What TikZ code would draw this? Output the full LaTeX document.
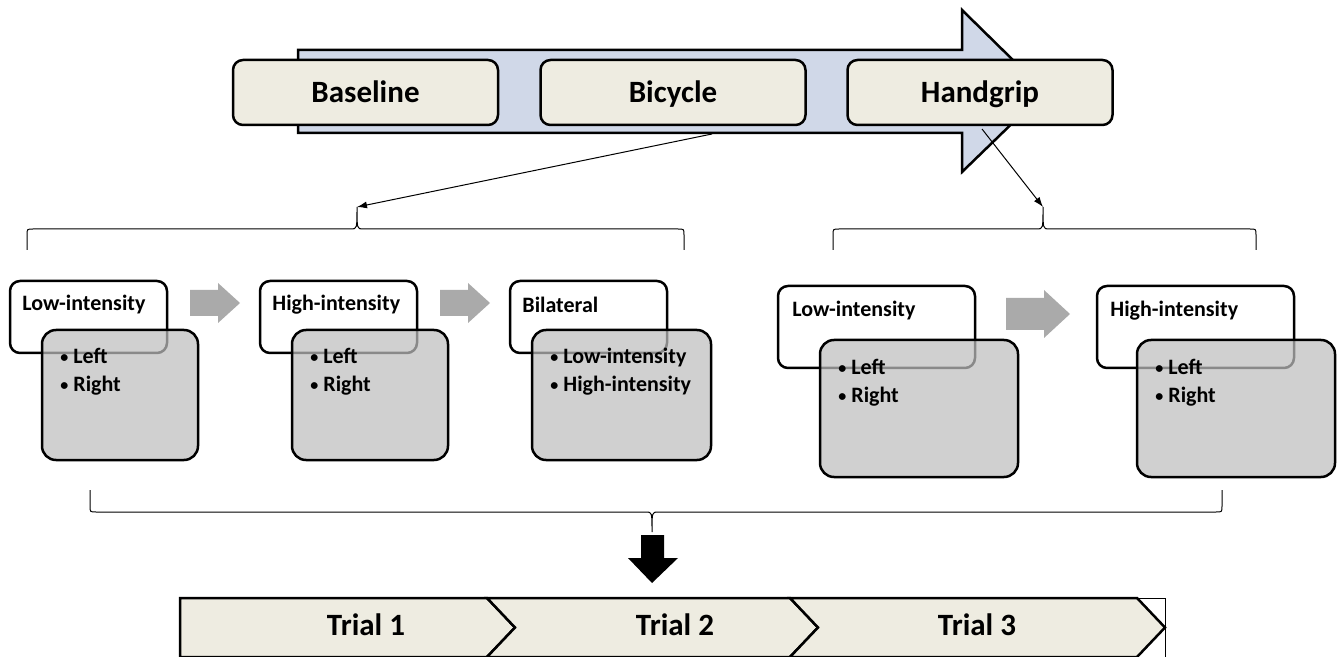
\documentclass[tikz,border=0pt]{standalone}
\usepackage{fontspec}
\setmainfont{Carlito}
\usepackage{tikz}
\usetikzlibrary{arrows.meta, positioning}
\definecolor{phase-beige}{RGB}{238,236,225}
\definecolor{phase-blue}{RGB}{208,216,232}
\definecolor{list-gray}{RGB}{190,190,190}
\definecolor{flow-gray}{RGB}{170,170,170}
\newcommand{\itm}{{\fontsize{8}{8}\selectfont\raisebox{0.6pt}{•}}\hspace{2.5pt}}

\begin{document}
\begin{tikzpicture}[
  x=0.5pt, y=-0.5pt,
  phase/.style={rectangle, draw, line width=1.25pt, rounded corners=5pt, fill=phase-beige, minimum width=132.5pt, minimum height=32.5pt, text height=12.5pt, text depth=2pt, font=\bfseries\fontsize{15.5}{18}\selectfont},
  titlebox/.style={rectangle, draw, line width=1.25pt, rounded corners=5pt, fill=white, minimum width=78.5pt, minimum height=36pt},
  listbox/.style={rectangle, draw, line width=1.25pt, rounded corners=7pt, fill=list-gray, fill opacity=0.72, text opacity=1, minimum width=78pt, minimum height=65pt},
  steptitle/.style={anchor=west, inner sep=0pt, font=\bfseries\fontsize{11}{13}\selectfont},
  items/.style={anchor=north west, inner sep=0pt, align=left, font=\bfseries\fontsize{11}{14}\selectfont},
  trial/.style={text height=11pt, text depth=3pt, font=\bfseries\fontsize{15.5}{18}\selectfont},
  brace/.style={draw, line width=0.5pt},
  link/.style={-{Latex[length=5pt,width=3.5pt]}, line width=0.5pt},
  flow/.style={fill=flow-gray},
  chevron/.style={draw, line width=1.25pt, fill=phase-beige, line join=miter}
]
  \useasboundingbox (0,0) rectangle (1338,657);

  \draw[line width=1.25pt, fill=phase-blue] (298,50) -- (962,50) -- (962,10) -- (1045,91.5) -- (962,172) -- (962,133) -- (298,133) -- cycle;
  \node[phase] (baseline) at (365.5,92.5) {Baseline};
  \node[phase] (bicycle) at (673,92.5) {Bicycle};
  \node[phase] (handgrip) at (980,92.5) {Handgrip};

  \coordinate (bikeout) at (712,134);
  \coordinate (gripout) at (982,129);
  \coordinate (bikebrace) at (357,207);
  \coordinate (gripbrace) at (1043,207);
  \coordinate (allbrace) at (652,532);

  \draw[brace] (27,250) -- (27,235) .. controls (27,229) .. (33,229) -- (351,229) .. controls (357,229) .. (bikebrace) .. controls (357,229) .. (363,229) -- (678,229) .. controls (684,229) .. (684,235) -- (684,250);
  \draw[brace] (833,250) -- (833,235) .. controls (833,229) .. (839,229) -- (1037,229) .. controls (1043,229) .. (gripbrace) .. controls (1043,229) .. (1049,229) -- (1250,229) .. controls (1256,229) .. (1256,235) -- (1256,250);
  \draw[link] (bikeout) -- (bikebrace);
  \draw[link] (gripout) -- (gripbrace);

  \node[titlebox] (lowbike) at (88.5,317) {};
  \node[titlebox] (highbike) at (338.5,317) {};
  \node[titlebox] (bilat) at (588.5,317) {};
  \node[titlebox, minimum width=98.5pt, minimum height=41pt] (lowgrip) at (876.5,327) {};
  \node[titlebox, minimum width=98.5pt, minimum height=41pt] (highgrip) at (1195.5,327) {};

  \node[steptitle] (lowbiketext) at (22,305) {Low-intensity};
  \node[steptitle] (highbiketext) at (272,305) {High-intensity};
  \node[steptitle] (bilattext) at (522,305) {Bilateral};
  \node[steptitle] (lowgriptext) at (792,311) {Low-intensity};
  \node[steptitle] (highgriptext) at (1110,311) {High-intensity};

  \node[listbox] (lowbikelist) at (120,395) {};
  \node[listbox] (highbikelist) at (370,395) {};
  \node[listbox, minimum width=89.5pt] (bilatlist) at (621.5,395) {};
  \node[listbox, minimum width=99pt, minimum height=68.5pt] (lowgriplist) at (919,408.5) {};
  \node[listbox, minimum width=99pt, minimum height=68.5pt] (highgriplist) at (1236,408.5) {};

  \node[items] (lowbikeitems) at (60,348) {\itm Left\\\itm Right};
  \node[items] (highbikeitems) at (310,348) {\itm Left\\\itm Right};
  \node[items] (bilatitems) at (550,348) {\itm Low-intensity\\\itm High-intensity};
  \node[items] (lowgripitems) at (838,359) {\itm Left\\\itm Right};
  \node[items] (highgripitems) at (1155,359) {\itm Left\\\itm Right};

  \foreach \x in {190,440}
    \fill[flow] (\x,290) -- (\x+28,290) -- (\x+28,283) -- (\x+50,303) -- (\x+28,323) -- (\x+28,316) -- (\x,316) -- cycle;
  \fill[flow] (1006,298) -- (1044,298) -- (1044,290) -- (1070,314) -- (1044,338) -- (1044,330) -- (1006,330) -- cycle;

  \draw[brace] (90,490) -- (90,506) .. controls (90,512) .. (96,512) -- (646,512) .. controls (652,512) .. (allbrace) .. controls (652,512) .. (658,512) -- (1216,512) .. controls (1222,512) .. (1222,506) -- (1222,490);
  \fill (641,535) -- (664,535) -- (664,558) -- (678,558) -- (652,583) -- (628,558) -- (641,558) -- cycle;

  \draw[line width=0.4pt] (180,598) rectangle (1165,657);
  \draw[chevron] (180,598) -- (487,598) -- (515,627.5) -- (487,657) -- (180,657) -- cycle;
  \draw[chevron] (487,598) -- (790,598) -- (818,627.5) -- (790,657) -- (487,657) -- (515,627.5) -- cycle;
  \draw[chevron] (790,598) -- (1137,598) -- (1165,627.5) -- (1137,657) -- (790,657) -- (818,627.5) -- cycle;
  \node[trial] (trial1) at (366,627) {Trial 1};
  \node[trial] (trial2) at (675,627) {Trial 2};
  \node[trial] (trial3) at (977,627) {Trial 3};
\end{tikzpicture}
\end{document}
